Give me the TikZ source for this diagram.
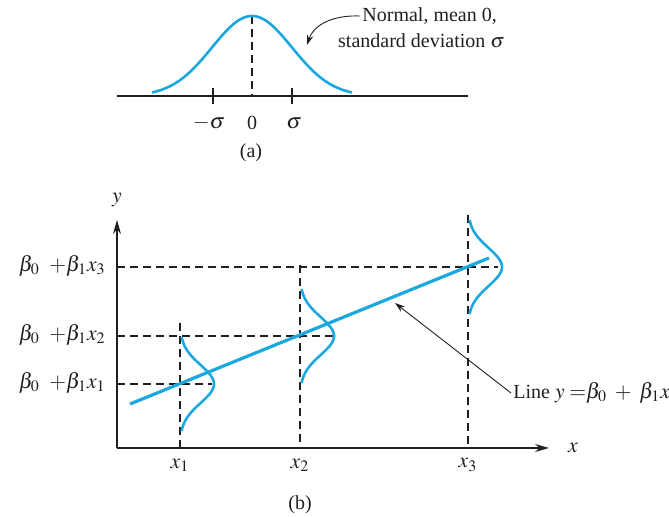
\documentclass[tikz,border=0pt]{standalone}
\usepackage{mathptmx}
\usepackage{fontspec}
\setmainfont{Liberation Serif}
\usetikzlibrary{arrows.meta, positioning, calc}
\definecolor{curveblue}{HTML}{1BA8E0}
\definecolor{inkgray}{HTML}{231F20}

\begin{document}
\begin{tikzpicture}[x=0.5pt, y=-0.5pt, >={Stealth[length=7pt, width=4pt]},
  every node/.style={text=inkgray, font=\fontsize{10}{12}\selectfont, inner sep=1pt},
  mathlab/.style={font=\fontsize{10.8}{12}\selectfont},
  bell/.style={curveblue, line width=1.3pt},
  fitline/.style={curveblue, line width=1.6pt},
  guide/.style={inkgray, line width=0.55pt, dash pattern=on 4pt off 2.5pt},
  axis/.style={inkgray, line width=0.7pt},
  pointer/.style={inkgray, line width=0.45pt, -{Stealth[length=5pt, width=3.2pt]}}]

\useasboundingbox (0,0) rectangle (669,517);

% (a) Normal curve on its own axis
\coordinate (Aleft) at (117,96);
\coordinate (Aright) at (468,96);
\coordinate (Amean) at (252,96);
\coordinate (Apeak) at (252,16);
\draw[axis] (Aleft) -- (Aright);
\draw[axis] (213,88) -- (213,104);
\draw[axis] (292,88) -- (292,104);
\draw[guide] (Apeak) -- (Amean);
\draw[bell] plot[domain=-100:100, samples=80, smooth]
  ({252+\x},{96-80*exp(-0.5*(\x/40)*(\x/40))});

% Tick labels
\node[mathlab] (msig) at (209,123) {$-\sigma$};
\node (zero) at (252,123) {0};
\node[mathlab] (psig) at (294,123) {$\sigma$};
\node (capa) at (251,153) {(a)};

% Note on the curve
\node[anchor=west] (normal) at (360,16) {Normal, mean 0,};
\node[anchor=east] (stddev) at (507,41) {standard deviation $\sigma$};
\coordinate (Ahit) at (307,45);
\draw[pointer] (normal.west) .. controls (334,15) and (314,24) .. (Ahit);

% (b) Axes
\coordinate (O) at (117,448);
\coordinate (Xend) at (549,448);
\coordinate (Yend) at (117,220);
\draw[axis, ->] (O) -- (Xend);
\draw[axis, ->] (O) -- (Yend);
\node[mathlab] (xlab) at (573,448) {$x$};
\node[mathlab] (ylab) at (117,200) {$y$};

% Dashed guides
\draw[guide] (180,323) -- (180,448);
\draw[guide] (300,265) -- (300,448);
\draw[guide] (468,215) -- (468,448);
\draw[guide] (117,384) -- (212,384);
\draw[guide] (117,336) -- (333,336);
\draw[guide] (117,267) -- (498,267);

% Regression line
\coordinate (Lstart) at (130,404);
\coordinate (Lend) at (489,258);
\draw[fitline] (Lstart) -- (Lend);

% Error densities at x1, x2, x3
\draw[bell] plot[domain=-47:47, samples=50, smooth]
  ({180+34*exp(-0.5*(\x/19)*(\x/19))},{384+\x});
\draw[bell] plot[domain=-47:47, samples=50, smooth]
  ({300+34*exp(-0.5*(\x/19)*(\x/19))},{336+\x});
\draw[bell] plot[domain=-47:47, samples=50, smooth]
  ({468+34*exp(-0.5*(\x/19)*(\x/19))},{267+\x});

% Level labels
\node[mathlab, anchor=east] (lev3) at (108,266) {$\beta_0\;\;{+}\beta_1x_3$};
\node[mathlab, anchor=east] (lev2) at (108,335) {$\beta_0\;\;{+}\beta_1x_2$};
\node[mathlab, anchor=east] (lev1) at (108,383) {$\beta_0\;\;{+}\beta_1x_1$};

% Point labels
\node[mathlab] (px1) at (180,465) {$x_1$};
\node[mathlab] (px2) at (300,465) {$x_2$};
\node[mathlab] (px3) at (468,465) {$x_3$};
\node (capb) at (300,505) {(b)};

% Note on the line
\node[anchor=west] (linenote) at (511,393) {Line \fontsize{10.8}{12}\selectfont$y\;{=}\beta_0 \;+\; \beta_1x$};
\coordinate (Lhit) at (395,303);
\draw[pointer] (linenote.west) -- (Lhit);

\end{tikzpicture}
\end{document}
